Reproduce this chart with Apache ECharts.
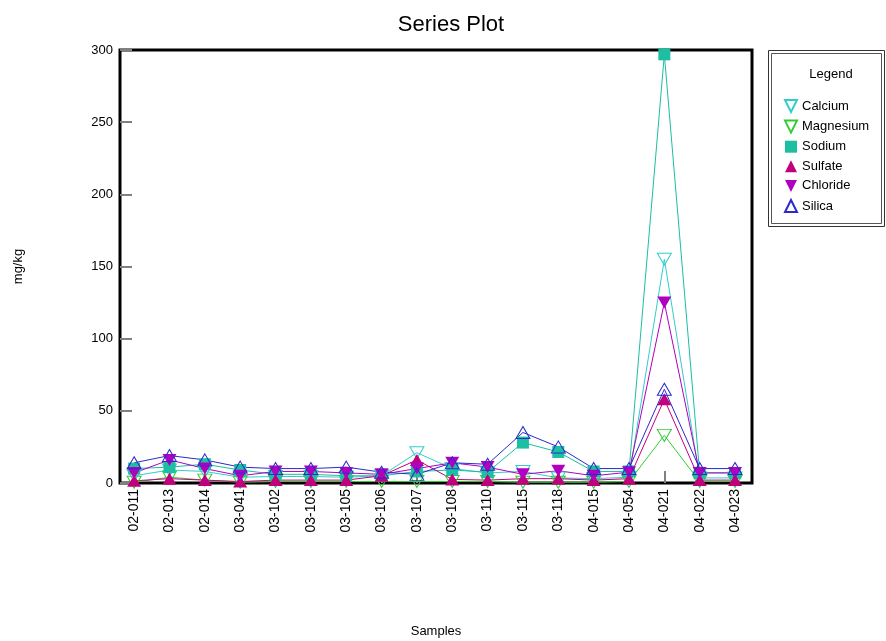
<!DOCTYPE html>
<html>
<head>
<meta charset="utf-8">
<script src="https://cdn.jsdelivr.net/npm/echarts@6/dist/echarts.min.js"></script>
<style>
  html, body { margin: 0; padding: 0; background: #fff; }
  #chart { width: 886px; height: 641px; }
</style>
</head>
<body>
<div id="chart"></div>
<script>
// Sample identifiers along the x axis
const categories = ['02-011', '02-013', '02-014', '03-041', '03-102', '03-103', '03-105', '03-106', '03-107',
                    '03-108', '03-110', '03-115', '03-118', '04-015', '04-054', '04-021', '04-022', '04-023'];

// Concentrations per sample, mg/kg
const calcium   = [5, 9, 8, 4, 4.5, 4.5, 4, 5, 21, 10, 7, 8, 3.5, 3, 4, 155, 3.5, 3.5];
const magnesium = [0.5, 4, 2, 0.5, 1, 1, 1, 1, 1, 1, 1, 0.5, 0.5, 0.5, 1, 33, 1, 1];
const sodium    = [10, 11, 13, 9, 6, 6, 5, 5, 8, 9, 7.5, 28, 21.5, 8, 8, 297, 7, 7];
const sulfate   = [1.5, 3, 2, 1, 2, 2, 2, 5, 16, 2.5, 2, 3, 3, 2, 3, 58, 2, 2];
const chloride  = [7, 16, 10, 5, 8, 8, 7, 6, 10, 14, 11, 6, 8.5, 5, 7.5, 125, 7, 7];
const silica    = [14, 19, 16, 11, 10, 10, 11, 7.5, 6, 14, 13, 35, 25, 10, 10, 65, 10, 10];

// Y axis tick values
const yTicks = [0, 50, 100, 150, 200, 250, 300];

const FONT = 'Liberation Sans, Arial, sans-serif';
const UP = 'path://M5,0 L10,10 L0,10 Z';
const DOWN = 'path://M0,0 L10,0 L5,10 Z';

const idx = categories.map((_, i) => i);
const pairs = arr => arr.map((v, i) => [i, v]);

function makeSeries(name, data, color, symbol, hollow, size) {
  return {
    name: name,
    type: 'line',
    data: pairs(data),
    symbol: symbol,
    symbolSize: size,
    showAllSymbol: true,
    clip: false,
    color: color,
    lineStyle: { color: color, width: 1 },
    itemStyle: hollow
      ? { color: 'rgba(0,0,0,0)', borderColor: color, borderWidth: 1 }
      : { color: color, borderWidth: 0 },
    emphasis: { disabled: true },
    animation: false
  };
}

const series = [
  makeSeries('Calcium',   calcium,   '#33cccc', DOWN, true, [14, 12]),
  makeSeries('Magnesium', magnesium, '#33cc33', DOWN, true, [14, 12]),
  makeSeries('Sodium',    sodium,    '#1cbfa2', 'rect', false, 12),
  makeSeries('Sulfate',   sulfate,   '#c0007c', UP, false, [14, 12]),
  makeSeries('Chloride',  chloride,  '#b000c0', DOWN, false, [14, 12]),
  makeSeries('Silica',    silica,    '#2a2acc', UP, true, [14, 12])
];

const legendIcons = { Calcium: DOWN, Magnesium: DOWN, Sodium: 'rect', Sulfate: UP, Chloride: DOWN, Silica: UP };

const chart = echarts.init(document.getElementById('chart'), null, { renderer: 'canvas' });
chart.setOption({
  backgroundColor: '#ffffff',
  animation: false,
  textStyle: { fontFamily: FONT },
  title: {
    text: 'Series Plot',
    left: 446,
    textAlign: 'center',
    top: 9,
    textStyle: { fontFamily: FONT, fontSize: 22, fontWeight: 'normal', color: '#000' }
  },
  grid: {
    left: 120, top: 50, right: 134, bottom: 158,
    containLabel: false,
    outerBoundsMode: 'none',
    show: true, borderColor: '#000', borderWidth: 3, backgroundColor: 'transparent'
  },
  legend: {
    orient: 'vertical',
    left: 784,
    top: 99,
    padding: 0,
    itemWidth: 12,
    itemHeight: 12,
    itemGap: 6.6,
    selectedMode: false,
    data: series.map(s => ({ name: s.name, icon: legendIcons[s.name] })),
    textStyle: { fontFamily: FONT, fontSize: 13, color: '#000' }
  },
  graphic: [
    { type: 'rect', shape: { x: 768.5, y: 50.5, width: 116, height: 176 }, style: { fill: 'none', stroke: '#333', lineWidth: 1 } },
    { type: 'rect', shape: { x: 771.5, y: 53.5, width: 110, height: 170 }, style: { fill: 'none', stroke: '#555', lineWidth: 1 } },
    { type: 'text', x: 831, y: 74, style: { text: 'Legend', font: '13px ' + FONT, fill: '#000', align: 'center', verticalAlign: 'middle' } }
  ],
  xAxis: {
    type: 'value',
    min: -0.4,
    max: 17.48,
    name: 'Samples',
    nameLocation: 'middle',
    nameGap: 142,
    nameTextStyle: { fontFamily: FONT, fontSize: 13, color: '#000' },
    axisLine: { show: false, onZero: false },
    splitLine: { show: false },
    axisTick: {
      show: true, inside: true, length: 12,
      customValues: idx,
      lineStyle: { color: '#808080', width: 2 }
    },
    axisLabel: {
      customValues: idx,
      rotate: 90,
      margin: 6,
      fontFamily: FONT,
      fontSize: 14,
      color: '#000',
      formatter: v => categories[Math.round(v)] || ''
    }
  },
  yAxis: {
    type: 'value',
    min: yTicks[0],
    max: yTicks[yTicks.length - 1],
    interval: 50,
    name: 'mg/kg',
    nameLocation: 'middle',
    nameGap: 95,
    nameRotate: 90,
    nameTextStyle: { fontFamily: FONT, fontSize: 13, color: '#000' },
    axisLine: { show: false, onZero: false },
    splitLine: { show: false },
    axisTick: { show: true, inside: true, length: 12, lineStyle: { color: '#808080', width: 2 } },
    axisLabel: { margin: 7, fontFamily: FONT, fontSize: 13, color: '#000' }
  },
  series: series
});
</script>
</body>
</html>
